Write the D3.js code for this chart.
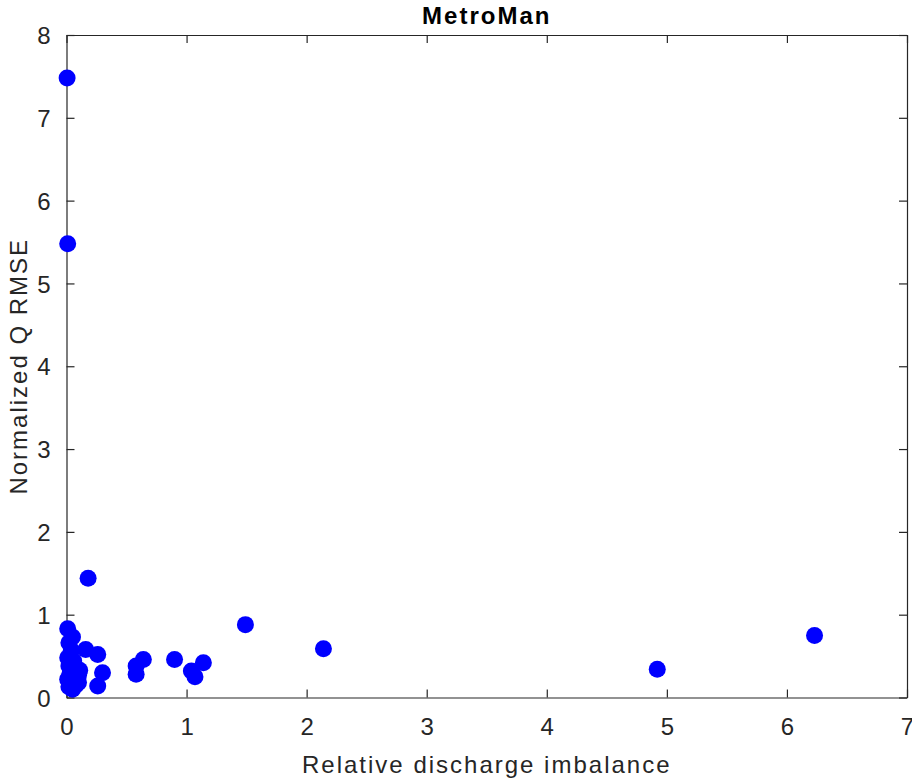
<!DOCTYPE html>
<html>
<head>
<meta charset="utf-8">
<script src="https://cdn.jsdelivr.net/npm/d3@7"></script>
<style>
  html, body { margin: 0; padding: 0; background: #fff; }
  svg { display: block; font-family: "Liberation Sans", Arial, Helvetica, sans-serif; }
</style>
</head>
<body>
<svg id="chart" width="912" height="780"></svg>
<script>
// Relative discharge imbalance vs. normalized Q RMSE (MetroMan)
const imbalance = [
  0.005, 0.010, 0.18, 1.49, 2.14, 4.92, 6.23,
  0.01, 0.05, 0.02, 0.04, 0.01, 0.06, 0.02, 0.08, 0.03, 0.10, 0.01, 0.06, 0.10, 0.02, 0.05, 0.08, 0.11, 0.03,
  0.16, 0.26, 0.30, 0.26,
  0.64, 0.58, 0.58, 0.90, 1.14, 1.04, 1.07
];
const qRmse = [
  7.48, 5.48, 1.44, 0.88, 0.59, 0.34, 0.75,
  0.83, 0.73, 0.66, 0.57, 0.48, 0.44, 0.38, 0.35, 0.30, 0.27, 0.22, 0.20, 0.18, 0.13, 0.10, 0.15, 0.33, 0.25,
  0.58, 0.52, 0.30, 0.14,
  0.46, 0.38, 0.28, 0.46, 0.42, 0.32, 0.25
];
const xTicks = [0, 1, 2, 3, 4, 5, 6, 7];
const yTicks = [0, 1, 2, 3, 4, 5, 6, 7, 8];

const chartTitle = "MetroMan";
const xLabel = "Relative discharge imbalance";
const yLabel = "Normalized Q RMSE";

const svg = d3.select("#chart");
const plotLeft = 66.5, plotRight = 907, plotTop = 35, plotBottom = 697.5;
const x = d3.scaleLinear().domain([0, 7]).range([plotLeft, plotRight]);
const y = d3.scaleLinear().domain([0, 8]).range([plotBottom, plotTop]);
const axisColor = "#262626";
const tickLen = 8;

// axes with inward ticks, mirrored on top and right
const gx = svg.append("g").attr("transform", `translate(0,${plotBottom})`)
  .call(d3.axisBottom(x).tickValues(xTicks).tickSizeInner(-tickLen).tickSizeOuter(0).tickPadding(20).tickFormat(d3.format("d")));
const gxTop = svg.append("g").attr("transform", `translate(0,${plotTop})`)
  .call(d3.axisTop(x).tickValues(xTicks).tickSizeInner(-tickLen).tickSizeOuter(0).tickFormat(""));
const gy = svg.append("g").attr("transform", `translate(${plotLeft},0)`)
  .call(d3.axisLeft(y).tickValues(yTicks).tickSizeInner(-tickLen).tickSizeOuter(0).tickPadding(16).tickFormat(d3.format("d")));
const gyRight = svg.append("g").attr("transform", `translate(${plotRight},0)`)
  .call(d3.axisRight(y).tickValues(yTicks).tickSizeInner(-tickLen).tickSizeOuter(0).tickFormat(""));

[gx, gxTop, gy, gyRight].forEach(g => {
  g.selectAll(".domain").attr("stroke", axisColor).attr("stroke-width", 1.2);
  g.selectAll(".tick line").attr("stroke", axisColor).attr("stroke-width", 1.2);
  g.selectAll(".tick text").attr("fill", axisColor).style("font-size", "24px")
    .style("font-family", "'Liberation Sans', Arial, sans-serif");
});
gy.selectAll(".tick text").attr("dy", "0.36em");

// scatter points
svg.append("g")
  .selectAll("circle")
  .data(imbalance.map((v, i) => [v, qRmse[i]]))
  .join("circle")
  .attr("cx", d => x(d[0]))
  .attr("cy", d => y(d[1]))
  .attr("r", 8.5)
  .attr("fill", "#0000ff");

// title and axis labels
svg.append("text")
  .attr("x", (plotLeft + plotRight) / 2).attr("y", 24)
  .attr("text-anchor", "middle")
  .style("font-size", "24px").style("font-weight", "bold").style("letter-spacing", "2px")
  .attr("fill", "#000")
  .text(chartTitle);

svg.append("text")
  .attr("x", (plotLeft + plotRight) / 2).attr("y", 773)
  .attr("text-anchor", "middle")
  .style("font-size", "24px").style("letter-spacing", "2px")
  .attr("fill", axisColor)
  .text(xLabel);

svg.append("text")
  .attr("transform", `translate(27,${(plotTop + plotBottom) / 2}) rotate(-90)`)
  .attr("text-anchor", "middle")
  .style("font-size", "24px").style("letter-spacing", "2px")
  .attr("fill", axisColor)
  .text(yLabel);
</script>
</body>
</html>
